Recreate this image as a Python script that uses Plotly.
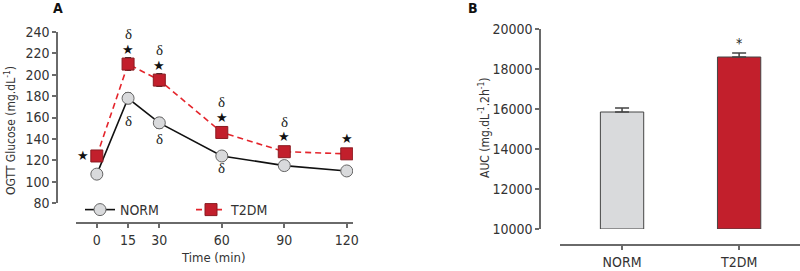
import plotly.graph_objects as go

# ---------------- data ----------------
time_min = [0, 15, 30, 60, 90, 120]
norm_glucose = [107, 178, 155, 124, 115, 110]
norm_err = [3, 5, 5, 3, 2, 2]
t2dm_glucose = [124, 210, 195, 146, 128, 126]
t2dm_err = [3, 6, 6, 4, 3, 3]
star_t2dm = [1, 1, 1, 1, 1, 1]
delta_t2dm = [0, 1, 1, 1, 1, 0]
delta_norm = [0, 1, 1, 1, 0, 0]

groups = ["NORM", "T2DM"]
auc = [15850, 18600]
auc_err = [200, 200]
auc_base = 10000
auc_star = [0, 1]

W, H = 800, 271
FONT = "Liberation Sans Narrow, DejaVu Sans Condensed, Arial Narrow, sans-serif"
RED = "#C21F2C"
RED_LINE = "#E4252C"
GRAY = "#D9DADC"
AX = "#6a6a6a"
TXT = "#333333"

def px(x):
    return x / W

def py(y):
    return (H - y) / H

fig = go.Figure()

fig.add_trace(go.Scatter(
    x=time_min, y=norm_glucose, name="NORM", mode="lines+markers",
    line=dict(color="#111111", width=1.6),
    marker=dict(symbol="circle", size=12, color=GRAY, line=dict(color="#666666", width=1)),
    error_y=dict(type="data", array=norm_err, color="#333333", thickness=1.2, width=3),
    xaxis="x", yaxis="y",
))
fig.add_trace(go.Scatter(
    x=time_min, y=t2dm_glucose, name="T2DM", mode="lines+markers",
    line=dict(color=RED_LINE, width=1.6, dash="6px,4px"),
    marker=dict(symbol="square", size=12, color=RED, line=dict(color="#8a1a20", width=1)),
    error_y=dict(type="data", array=t2dm_err, color="#333333", thickness=1.2, width=3),
    xaxis="x", yaxis="y",
))

# bars (panel B)
fig.add_trace(go.Bar(
    x=groups, y=[a - auc_base for a in auc], base=[auc_base] * len(auc),
    marker=dict(color=[GRAY, RED], line=dict(color="#444444", width=1)),
    width=0.37, showlegend=False, xaxis="x2", yaxis="y2",
))
fig.add_trace(go.Scatter(
    x=groups, y=auc, mode="markers", marker=dict(size=1, color="rgba(0,0,0,0)"),
    error_y=dict(type="data", array=auc_err, symmetric=False, arrayminus=[0, 0],
                 color="#444444", thickness=1.5, width=7),
    showlegend=False, xaxis="x2", yaxis="y2",
))

ann = []
# significance marks panel A
for i, t in enumerate(time_min):
    if star_t2dm[i]:
        ann.append(dict(x=t, y=t2dm_glucose[i], xref="x", yref="y", text="★",
                        showarrow=False, font=dict(size=13, color="#111", family="DejaVu Sans"),
                        xshift=-14 if t == 0 else 0, yshift=0 if t == 0 else 15))
    if delta_t2dm[i]:
        ann.append(dict(x=t, y=t2dm_glucose[i], xref="x", yref="y", text="δ",
                        showarrow=False, font=dict(size=15, color="#222", family="Liberation Serif"),
                        yshift=30))
norm_delta_shift = [0, -23, -16, -12, 0, 0]
for i, t in enumerate(time_min):
    if delta_norm[i]:
        ann.append(dict(x=t, y=norm_glucose[i], xref="x", yref="y", text="δ",
                        showarrow=False, font=dict(size=15, color="#222", family="Liberation Serif"),
                        yshift=norm_delta_shift[i]))
for i, g in enumerate(groups):
    if auc_star[i]:
        ann.append(dict(x=g, y=auc[i] + auc_err[i], xref="x2", yref="y2", text="*",
                        showarrow=False, font=dict(size=14, color="#222", family=FONT), yshift=10))

def lab(x, y, text, size=14, angle=0, color=TXT):
    return dict(x=px(x), y=py(y), xref="paper", yref="paper", text=text, showarrow=False,
                xanchor="center", yanchor="middle", textangle=angle,
                font=dict(size=size, color=color, family=FONT))

ann += [
    lab(58, 8, "<b>A</b>", 14, color="#111"),
    lab(473, 8, "<b>B</b>", 14, color="#111"),
    lab(10, 131, "OGTT Glucose (mg.dL<sup>-1</sup>)", 12, -90),
    lab(213, 257, "Time (min)", 13),
    lab(484, 128, "AUC (mg.dL<sup>-1</sup>.2h<sup>-1</sup>)", 12, -90),
]

axcommon = dict(showgrid=False, zeroline=False, showline=True, linecolor=AX, linewidth=1.5,
                ticks="outside", tickcolor=AX, ticklen=4, tickwidth=1.5,
                tickfont=dict(size=14, color=TXT, family=FONT), automargin=False)

fig.update_layout(
    width=W, height=H, margin=dict(l=0, r=0, t=0, b=0),
    paper_bgcolor="white", plot_bgcolor="white",
    font=dict(family=FONT, color=TXT),
    xaxis=dict(domain=[px(76), px(353)], range=[-10, 123], anchor="free", position=py(223),
               tickvals=time_min, **axcommon),
    yaxis=dict(domain=[py(203), py(32)], range=[80, 240], anchor="free", position=px(57),
               dtick=20, **axcommon),
    xaxis2=dict(domain=[px(560), 1.0], range=[-0.53, 1.52], anchor="free", position=py(245),
                **axcommon),
    yaxis2=dict(domain=[py(229), py(29)], range=[10000, 20000], anchor="free", position=px(540),
                dtick=2000, tickformat="d", **axcommon),
    legend=dict(orientation="h", x=px(80), y=py(210), xanchor="left", yanchor="middle",
                font=dict(size=14, color=TXT, family=FONT), entrywidth=66, entrywidthmode="pixels",
                bgcolor="rgba(0,0,0,0)", itemwidth=30),
    annotations=ann,
    showlegend=True,
)

fig.write_html("out.html")
